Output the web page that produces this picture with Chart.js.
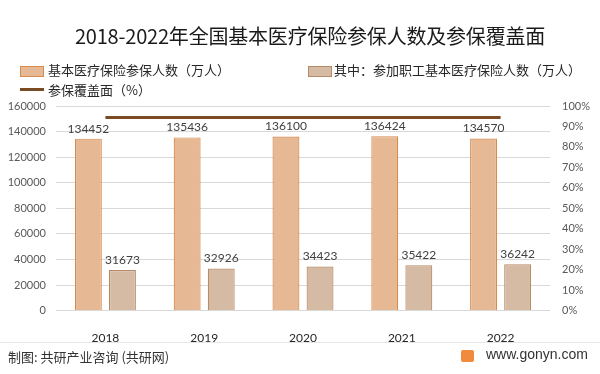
<!DOCTYPE html>
<html><head><meta charset="utf-8">
<script src="https://cdn.jsdelivr.net/npm/chart.js@4/dist/chart.umd.min.js"></script>
<style>
body{margin:0;background:#fff;}
#wrap{position:relative;width:600px;height:374px;overflow:hidden;font-family:"Noto Sans CJK SC","Noto Sans",sans-serif;}
#c{position:absolute;left:0;top:0;}
.t{position:absolute;white-space:nowrap;}
#title{left:0;width:620px;text-align:center;top:21px;font-size:20px;color:#1a1a1a;letter-spacing:-0.2px;}
.lg{position:absolute;font-size:13px;color:#262626;line-height:16px;}
.box{position:absolute;width:22px;height:9px;}
#sep{position:absolute;left:0;top:342px;width:600px;height:1px;background:#e6e6e6;}
#foot{left:8px;top:347px;font-size:13px;color:#333;}
#site{left:486px;top:346px;font-size:14px;color:#333;font-family:"Liberation Sans",Arial,sans-serif;}
#icon{position:absolute;left:461px;top:350px;width:13px;height:12px;background:#f08a3c;border-radius:2px;}
</style></head>
<body><div id="wrap">
<canvas id="c" width="600" height="374"></canvas>
<div class="t" id="title">2018-2022年全国基本医疗保险参保人数及参保覆盖面</div>
<div class="box" style="left:20px;top:66px;background:#E6B994;border:1px solid #D58B4E;"></div>
<div class="lg t" style="left:48px;top:62px;">基本医疗保险参保人数（万人）</div>
<div class="box" style="left:308px;top:66px;background:#D6BBA4;border:1px solid #B98A68;"></div>
<div class="lg t" style="left:334px;top:62px;">其中：参加职工基本医疗保险人数（万人）</div>
<div style="position:absolute;left:20px;top:88px;width:24px;height:3px;background:#7B4B24;"></div>
<div class="lg t" style="left:48px;top:82px;">参保覆盖面（%）</div>
<div id="sep"></div>
<div class="t" id="foot">制图: 共研产业咨询 (共研网)</div>
<div id="icon"></div>
<div class="t" id="site">www.gonyn.com</div>
</div>
<script>
const years = ["2018","2019","2020","2021","2022"];
const insured = [134452,135436,136100,136424,134570];
const employeeInsured = [31673,32926,34423,35422,36242];
const coverage = [94.4,94.4,94.4,94.4,94.4];

const labelPlugin = {
  id:'vals',
  afterDatasetsDraw(chart){
    const ctx = chart.ctx;
    ctx.save();
    ctx.font = '12px Lato, "Liberation Sans", sans-serif';
    ctx.fillStyle = '#404040';
    ctx.textAlign = 'center';
    ctx.textBaseline = 'bottom';
    chart.data.datasets.forEach((ds,di)=>{
      if(ds.type!=='bar') return;
      const meta = chart.getDatasetMeta(di);
      meta.data.forEach((el,i)=>{
        ctx.fillText(String(ds.data[i]), el.x, el.y-4);
      });
    });
    ctx.restore();
  }
};

new Chart(document.getElementById('c'),{
  data:{
    labels: years,
    datasets:[
      {type:'line',label:'参保覆盖面（%）',data:coverage,yAxisID:'y1',borderColor:'#7B4B24',borderWidth:3,pointRadius:0,order:0,tension:0},
      {type:'bar',label:'基本医疗保险参保人数（万人）',data:insured,yAxisID:'y',backgroundColor:'#E6B994',borderColor:'#D58B4E',borderWidth:1.2,order:1,categoryPercentage:0.69,barPercentage:0.79},
      {type:'bar',label:'其中：参加职工基本医疗保险人数（万人）',data:employeeInsured,yAxisID:'y',backgroundColor:'#D6BBA4',borderColor:'#B98A68',borderWidth:1.2,order:1,categoryPercentage:0.69,barPercentage:0.79}
    ]
  },
  options:{
    responsive:false,animation:false,
    layout:{padding:{top:106,bottom:17,left:0,right:0}},
    plugins:{legend:{display:false},tooltip:{enabled:false}},
    scales:{
      x:{grid:{display:false},border:{display:false},
         ticks:{color:'#262626',font:{family:'Lato, "Liberation Sans", sans-serif',size:12},padding:12}},
      y:{position:'left',min:0,max:160000,
         ticks:{stepSize:20000,color:'#595959',font:{family:'Lato, "Liberation Sans", sans-serif',size:11},padding:10,callback:v=>String(v)},
         grid:{color:'#d9d9d9',drawTicks:false},border:{display:false},
         afterFit(s){s.width=56;}},
      y1:{position:'right',min:0,max:100,
         ticks:{stepSize:10,color:'#595959',font:{family:'Lato, "Liberation Sans", sans-serif',size:11},padding:12,callback:v=>v+'%'},
         grid:{display:false,drawTicks:false},border:{display:false},
         afterFit(s){s.width=50;}}
    }
  },
  plugins:[labelPlugin]
});
</script>
</body></html>
